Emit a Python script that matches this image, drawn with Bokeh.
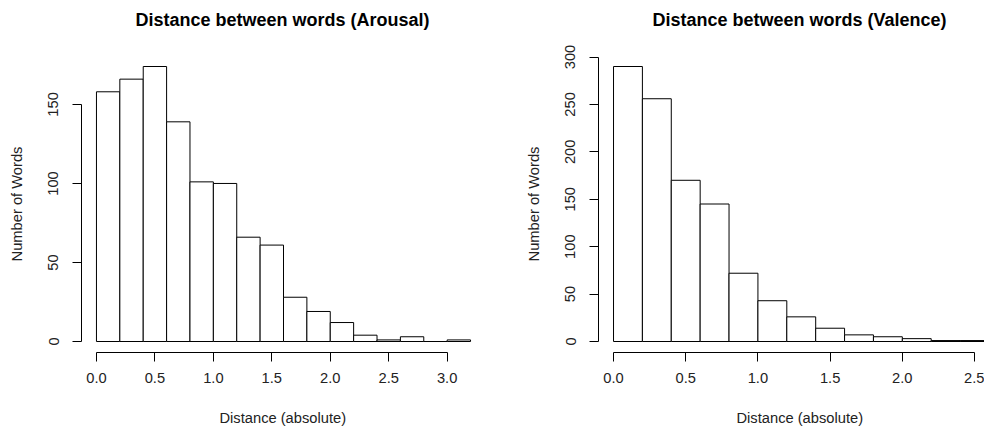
from bokeh.plotting import figure
from bokeh.layouts import row
from bokeh.models import Range1d, FixedTicker, Title
from bokeh.embed import file_html
from bokeh.resources import INLINE

# Histogram bins (absolute distance) and word counts per bin
arousal_edges = [0.0, 0.2, 0.4, 0.6, 0.8, 1.0, 1.2, 1.4, 1.6, 1.8, 2.0,
                 2.2, 2.4, 2.6, 2.8, 3.0, 3.2]
arousal_counts = [158, 166, 174, 139, 101, 100, 66, 61, 28, 19, 12,
                  4, 1, 3, 0, 1]

valence_edges = [0.0, 0.2, 0.4, 0.6, 0.8, 1.0, 1.2, 1.4, 1.6, 1.8, 2.0,
                 2.2, 2.4, 2.6]
valence_counts = [290, 256, 170, 145, 72, 43, 26, 14, 7, 5, 3, 1, 1]

arousal_xticks = [0.0, 0.5, 1.0, 1.5, 2.0, 2.5, 3.0]
arousal_yticks = [0, 50, 100, 150]
valence_xticks = [0.0, 0.5, 1.0, 1.5, 2.0, 2.5]
valence_yticks = [0, 50, 100, 150, 200, 250, 300]

FONT = "Liberation Sans"
TEXT_SIZE = "14.7px"
TEXT_COLOR = "#222222"


def spacer(gap):
    # white-on-white title used only to push the next title away from the frame
    return Title(text=".", text_font_size="4px", text_color="white",
                 standoff=gap)


def hist_panel(title, edges, counts, xticks, yticks, x_range, y_range,
               border_left, border_right):
    p = figure(width=492, height=427, output_backend="svg",
               toolbar_location=None, x_range=Range1d(*x_range),
               y_range=Range1d(*y_range),
               min_border_left=border_left, min_border_right=border_right,
               min_border_top=55, min_border_bottom=75)
    p.outline_line_color = None
    p.grid.visible = False
    p.background_fill_color = "white"
    p.border_fill_color = "white"

    p.quad(left=edges[:-1], right=edges[1:], bottom=0, top=counts,
           fill_color="white", line_color="black", line_width=1)

    # R-style axes: line only across the tick span, ticks pointing outwards
    for ax, ticks in ((p.xaxis[0], xticks), (p.yaxis[0], yticks)):
        ax.ticker = FixedTicker(ticks=ticks)
        ax.bounds = (ticks[0], ticks[-1])
        ax.axis_line_color = "black"
        ax.major_tick_line_color = "black"
        ax.major_tick_out = 9
        ax.major_tick_in = 0
        ax.minor_tick_line_color = None
        ax.major_label_text_font = FONT
        ax.major_label_text_font_size = TEXT_SIZE
        ax.major_label_text_color = TEXT_COLOR
    p.xaxis[0].major_label_overrides = {t: f"{t:.1f}" for t in xticks}
    p.xaxis[0].major_label_standoff = 11
    p.yaxis[0].major_label_orientation = "vertical"
    p.yaxis[0].major_label_standoff = 14

    p.yaxis[0].axis_label = "Number of Words"
    p.yaxis[0].axis_label_text_font = FONT
    p.yaxis[0].axis_label_text_font_size = TEXT_SIZE
    p.yaxis[0].axis_label_text_font_style = "normal"
    p.yaxis[0].axis_label_text_color = TEXT_COLOR
    p.yaxis[0].axis_label_standoff = 21

    # x-axis title below the tick labels
    p.add_layout(spacer(17), "below")
    p.add_layout(Title(text="Distance (absolute)", align="left", offset=138,
                       text_font=FONT, text_font_size=TEXT_SIZE,
                       text_font_style="normal", text_color=TEXT_COLOR,
                       standoff=0), "below")

    # main title
    p.add_layout(spacer(21), "above")
    p.add_layout(Title(text=title, align="left", offset=54, text_font=FONT,
                       text_font_size="18px", text_font_style="bold",
                       text_color="black", standoff=0), "above")
    return p


left = hist_panel("Distance between words (Arousal)",
                  arousal_edges, arousal_counts,
                  arousal_xticks, arousal_yticks,
                  x_range=(-0.128, 3.328), y_range=(-6.96, 180.96),
                  border_left=81, border_right=7)

right = hist_panel("Distance between words (Valence)",
                   valence_edges, valence_counts,
                   valence_xticks, valence_yticks,
                   x_range=(-0.104, 2.569), y_range=(-11.6, 301.6),
                   border_left=106, border_right=0)

layout = row(left, right)
open("out.html", "w").write(file_html(layout, INLINE))
